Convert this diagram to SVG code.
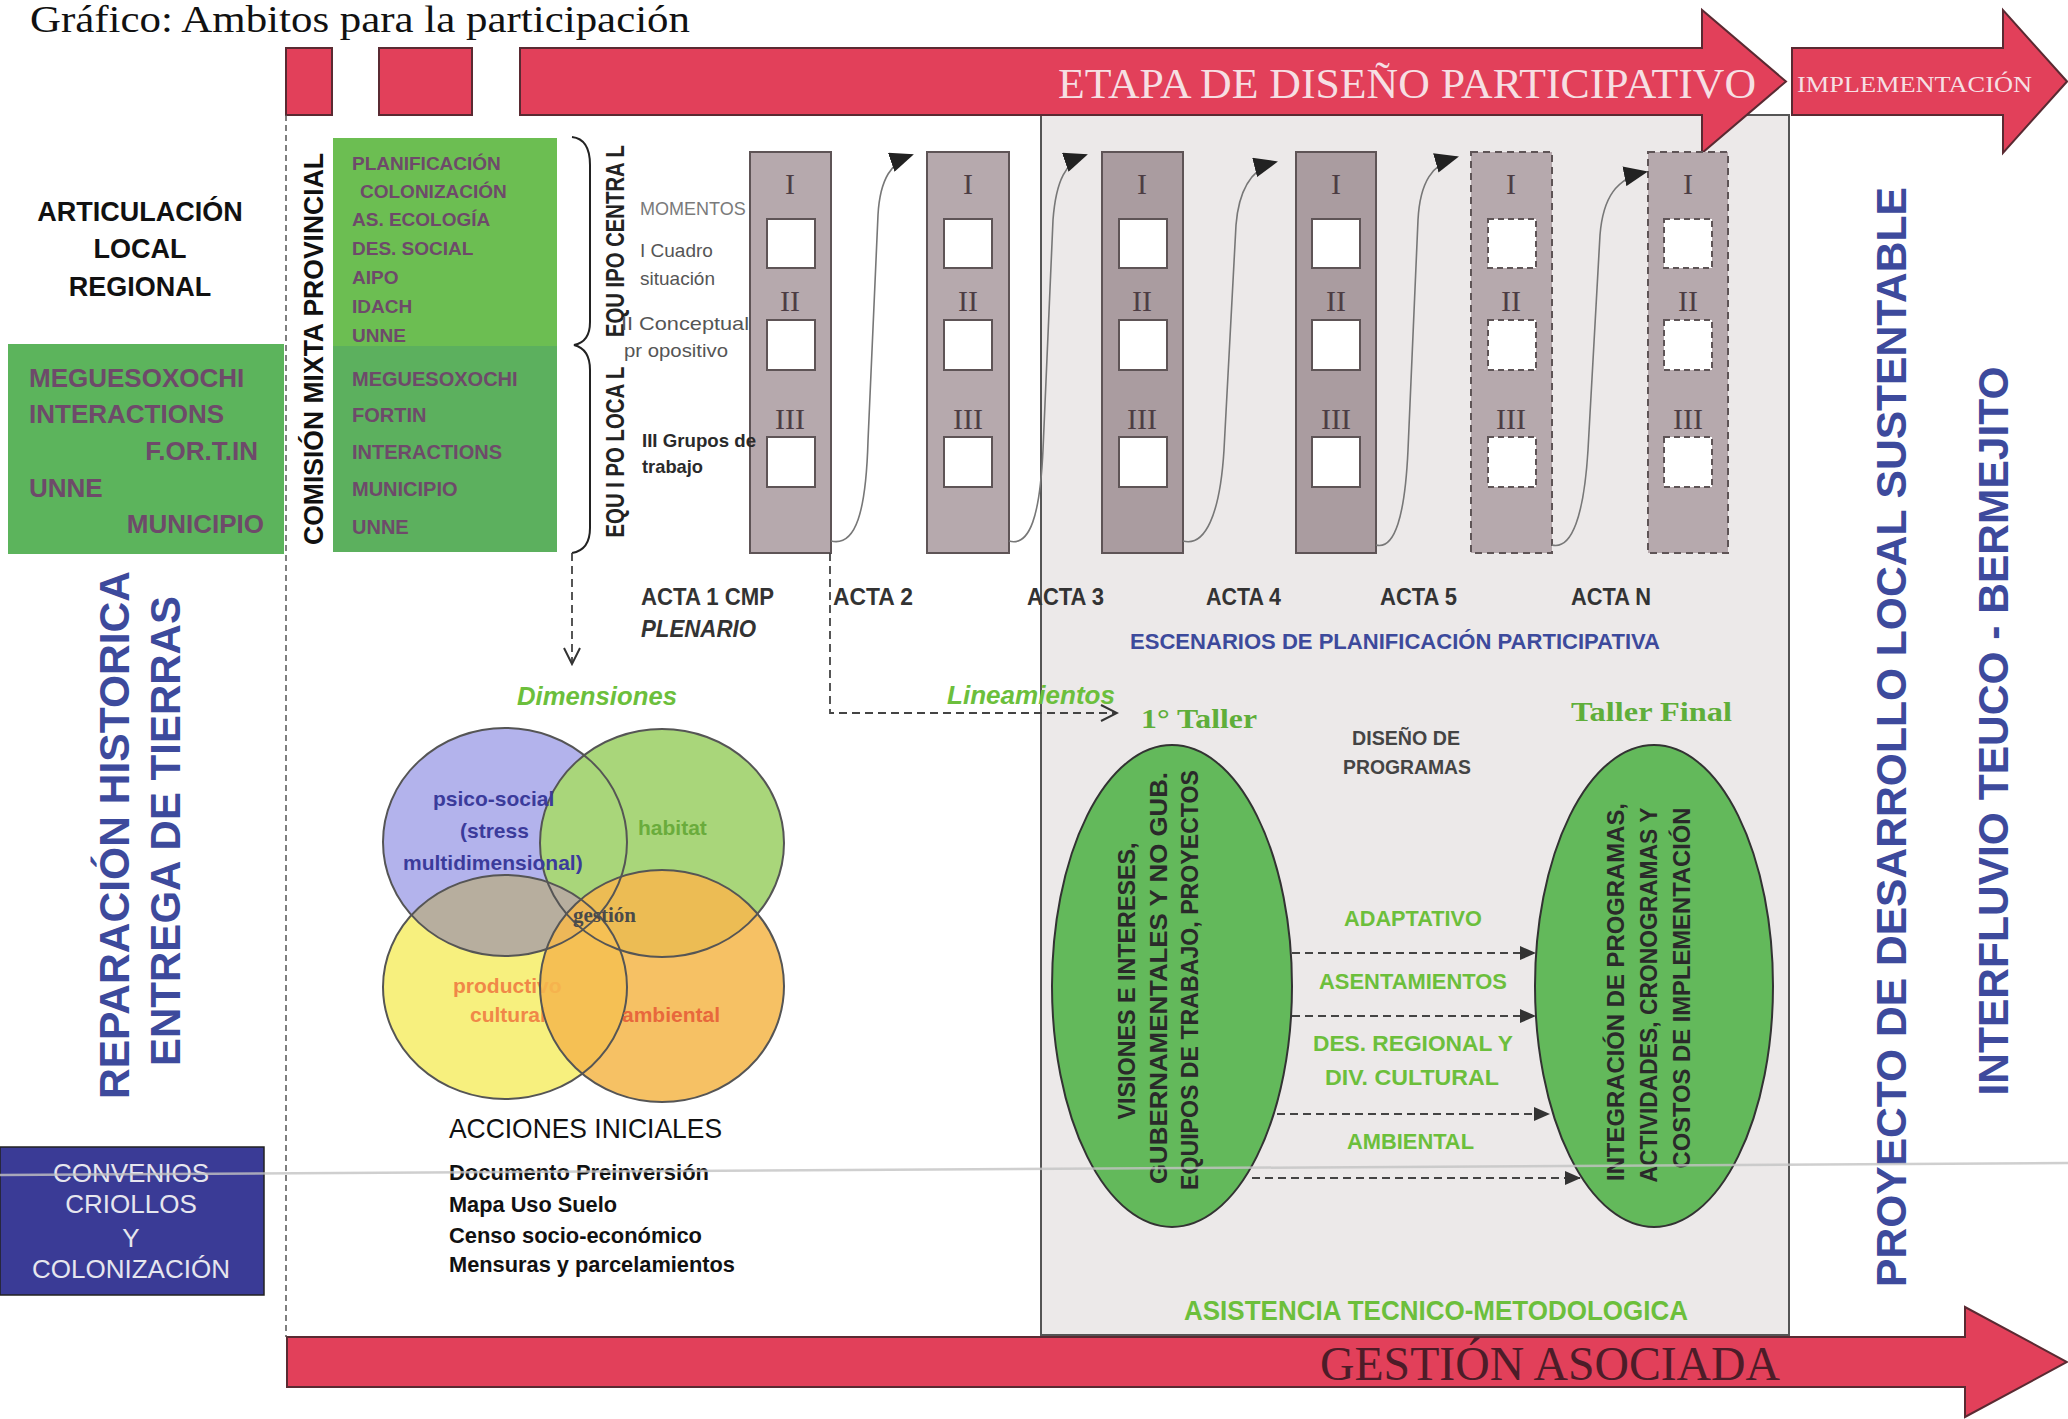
<svg xmlns="http://www.w3.org/2000/svg" width="2068" height="1419" viewBox="0 0 2068 1419">
<defs>
<style>
text{font-family:"Liberation Sans",Arial,sans-serif}
.serif{font-family:"Liberation Serif","Times New Roman",serif}
.red{fill:#e2405a;stroke:#5a2a32;stroke-width:2}
.bar{fill:#b6a9ad;stroke:#5e5456;stroke-width:2}
.bar2{fill:#aa9ca0;stroke:#5e5456;stroke-width:2}
.dbar{fill:#b6a9ad;stroke:#5e5456;stroke-width:2;stroke-dasharray:7 5}
.win{fill:#fff;stroke:#5e5456;stroke-width:2}
.dwin{fill:#fff;stroke:#5e5456;stroke-width:2;stroke-dasharray:6 4}
.rn{font-family:"Liberation Serif","Times New Roman",serif;font-size:30px;fill:#4d3d44;text-anchor:middle}
.mauve{fill:#6e4a6a;font-weight:bold}
.blue{fill:#3d4a9c;font-weight:bold}
.green{fill:#6cbf3c;font-weight:bold}
.acta{fill:#333;font-weight:bold;font-size:24px}
.curve{fill:none;stroke:#777;stroke-width:1.6}
.dash{fill:none;stroke:#444;stroke-width:1.8;stroke-dasharray:8 5}
.circ{fill:none;stroke:#555;stroke-width:2}
.ell{fill:#63b95b;stroke:#333;stroke-width:2}
.ell-t{fill:#2a2a2a;font-weight:bold;font-size:24px;text-anchor:middle}
.gray{fill:#555;font-size:19px}
</style>
<marker id="tri" markerUnits="userSpaceOnUse" markerWidth="24" markerHeight="20" viewBox="0 0 24 20" refX="22" refY="10" orient="auto"><path d="M0,0 L24,10 L0,20 z" fill="#222"/></marker>
<marker id="tri2" markerUnits="userSpaceOnUse" markerWidth="16" markerHeight="14" viewBox="0 0 16 14" refX="15" refY="7" orient="auto"><path d="M0,0 L16,7 L0,14 z" fill="#333"/></marker>
<marker id="chev" markerUnits="userSpaceOnUse" markerWidth="22" markerHeight="22" viewBox="0 0 22 22" refX="20" refY="11" orient="auto"><path d="M4,3 L20,11 L4,19" fill="none" stroke="#333" stroke-width="2" stroke-dasharray="none"/></marker>
<clipPath id="clipPurple"><ellipse cx="505" cy="842" rx="122" ry="114"/></clipPath>
</defs>
<rect x="0" y="0" width="2068" height="1419" fill="#fff"/>

<text class="serif" x="30" y="32" font-size="37" textLength="660" lengthAdjust="spacingAndGlyphs" fill="#111">Gráfico: Ambitos para la participación</text>

<g id="escenarios-box">
<rect x="1041" y="115" width="748" height="1220" fill="#ece9e9" stroke="#555" stroke-width="2"/>
</g>

<g id="etapa-arrow">
<path class="red" d="M520 48 H1702 V10 L1786 81.5 L1702 153 V115 H520 Z"/>
<text class="serif" x="1058" y="98" font-size="42" textLength="698" lengthAdjust="spacingAndGlyphs" fill="#f6dfe3">ETAPA DE DISEÑO PARTICIPATIVO</text>
</g>
<g id="implementacion-arrow">
<path class="red" d="M1792 48 H2003 V10 L2067 81.5 L2003 153 V115 H1792 Z"/>
<text class="serif" x="1797" y="92" font-size="24" textLength="235" lengthAdjust="spacingAndGlyphs" fill="#f6dfe3">IMPLEMENTACIÓN</text>
</g>
<g id="red-blocks">
<rect class="red" x="286" y="48" width="46" height="67"/>
<rect class="red" x="379" y="48" width="93" height="67"/>
</g>
<g id="gestion-arrow">
<path class="red" d="M287 1337 H1965 V1307 L2067 1362 L1965 1417 V1387 H287 Z"/>
<text class="serif" x="1320" y="1380" font-size="48" textLength="460" lengthAdjust="spacingAndGlyphs" fill="#4d1c28">GESTIÓN ASOCIADA</text>
</g>

<line x1="286" y1="115" x2="286" y2="1337" stroke="#555" stroke-width="1.5" stroke-dasharray="6 4"/>

<g id="articulacion">
<text x="140" y="221" font-size="27" font-weight="bold" text-anchor="middle" fill="#111">ARTICULACIÓN</text>
<text x="140" y="258" font-size="27" font-weight="bold" text-anchor="middle" fill="#111">LOCAL</text>
<text x="140" y="296" font-size="27" font-weight="bold" text-anchor="middle" fill="#111">REGIONAL</text>
</g>

<g id="local-org">
<rect x="8" y="344" width="276" height="210" fill="#5cb45c"/>
<text class="mauve" x="29" y="387" font-size="26">MEGUESOXOCHI</text>
<text class="mauve" x="29" y="423" font-size="26">INTERACTIONS</text>
<text class="mauve" x="258" y="460" font-size="26" text-anchor="end">F.OR.T.IN</text>
<text class="mauve" x="29" y="497" font-size="26">UNNE</text>
<text class="mauve" x="264" y="533" font-size="26" text-anchor="end">MUNICIPIO</text>
</g>

<g id="reparacion">
<text class="blue" font-size="42" text-anchor="middle" textLength="528" lengthAdjust="spacingAndGlyphs" transform="translate(129,835) rotate(-90)">REPARACIÓN HISTORICA</text>
<text class="blue" font-size="42" text-anchor="middle" textLength="470" lengthAdjust="spacingAndGlyphs" transform="translate(180,831) rotate(-90)">ENTREGA DE TIERRAS</text>
</g>

<g id="comision">
<text font-size="28" font-weight="bold" fill="#111" text-anchor="middle" textLength="392" lengthAdjust="spacingAndGlyphs" transform="translate(323,349) rotate(-90)">COMISIÓN MIXTA PROVINCIAL</text>
<rect x="333" y="138" width="224" height="208" fill="#6cbe52"/>
<rect x="333" y="346" width="224" height="206" fill="#5cb05e"/>
<text class="mauve" x="352" y="170" font-size="19">PLANIFICACIÓN</text>
<text class="mauve" x="360" y="198" font-size="19">COLONIZACIÓN</text>
<text class="mauve" x="352" y="226" font-size="19">AS. ECOLOGÍA</text>
<text class="mauve" x="352" y="255" font-size="19">DES. SOCIAL</text>
<text class="mauve" x="352" y="284" font-size="19">AIPO</text>
<text class="mauve" x="352" y="313" font-size="19">IDACH</text>
<text class="mauve" x="352" y="342" font-size="19">UNNE</text>
<text class="mauve" x="352" y="386" font-size="20">MEGUESOXOCHI</text>
<text class="mauve" x="352" y="422" font-size="20">FORTIN</text>
<text class="mauve" x="352" y="459" font-size="20">INTERACTIONS</text>
<text class="mauve" x="352" y="496" font-size="20">MUNICIPIO</text>
<text class="mauve" x="352" y="534" font-size="20">UNNE</text>
<path d="M572 137 Q590 139 590 165 L590 322 Q590 342 574 345 Q590 349 590 370 L590 528 Q590 550 572 553" fill="none" stroke="#222" stroke-width="2"/>
</g>

<g id="equipos">
<text font-size="26" font-weight="bold" fill="#222" text-anchor="middle" textLength="192" lengthAdjust="spacingAndGlyphs" transform="translate(624,241) rotate(-90)">EQU IPO CENTRA L</text>
<text font-size="26" font-weight="bold" fill="#222" text-anchor="middle" textLength="171" lengthAdjust="spacingAndGlyphs" transform="translate(624,452) rotate(-90)">EQU I PO LOCA L</text>
</g>

<g id="bars">
<rect class="bar" x="750" y="152" width="81" height="401"/>
<rect class="bar" x="927" y="152" width="82" height="401"/>
<rect class="bar2" x="1102" y="152" width="81" height="401"/>
<rect class="bar2" x="1296" y="152" width="80" height="401"/>
<rect class="dbar" x="1471" y="152" width="81" height="401"/>
<rect class="dbar" x="1648" y="152" width="80" height="401"/>
<g class="wins">
<rect class="win" x="767" y="219" width="48" height="49"/><rect class="win" x="767" y="320" width="48" height="50"/><rect class="win" x="767" y="437" width="48" height="50"/>
<rect class="win" x="944" y="219" width="48" height="49"/><rect class="win" x="944" y="320" width="48" height="50"/><rect class="win" x="944" y="437" width="48" height="50"/>
<rect class="win" x="1119" y="219" width="48" height="49"/><rect class="win" x="1119" y="320" width="48" height="50"/><rect class="win" x="1119" y="437" width="48" height="50"/>
<rect class="win" x="1312" y="219" width="48" height="49"/><rect class="win" x="1312" y="320" width="48" height="50"/><rect class="win" x="1312" y="437" width="48" height="50"/>
<rect class="dwin" x="1488" y="219" width="48" height="49"/><rect class="dwin" x="1488" y="320" width="48" height="50"/><rect class="dwin" x="1488" y="437" width="48" height="50"/>
<rect class="dwin" x="1664" y="219" width="48" height="49"/><rect class="dwin" x="1664" y="320" width="48" height="50"/><rect class="dwin" x="1664" y="437" width="48" height="50"/>
</g>
<g class="numerals">
<text class="rn" x="790" y="194">I</text><text class="rn" x="790" y="311">II</text><text class="rn" x="790" y="429">III</text>
<text class="rn" x="968" y="194">I</text><text class="rn" x="968" y="311">II</text><text class="rn" x="968" y="429">III</text>
<text class="rn" x="1142" y="194">I</text><text class="rn" x="1142" y="311">II</text><text class="rn" x="1142" y="429">III</text>
<text class="rn" x="1336" y="194">I</text><text class="rn" x="1336" y="311">II</text><text class="rn" x="1336" y="429">III</text>
<text class="rn" x="1511" y="194">I</text><text class="rn" x="1511" y="311">II</text><text class="rn" x="1511" y="429">III</text>
<text class="rn" x="1688" y="194">I</text><text class="rn" x="1688" y="311">II</text><text class="rn" x="1688" y="429">III</text>
</g>
</g>

<g id="momentos">
<text x="640" y="215" font-size="18" fill="#7a7a7a">MOMENTOS</text>
<text class="gray" x="640" y="257">I Cuadro</text>
<text class="gray" x="640" y="285">situación</text>
<text class="gray" x="621" y="330" textLength="128" lengthAdjust="spacingAndGlyphs">II Conceptual</text>
<text class="gray" x="624" y="357" textLength="104" lengthAdjust="spacingAndGlyphs">pr opositivo</text>
<text x="642" y="447" font-size="19" font-weight="bold" fill="#2a2a2a" textLength="114" lengthAdjust="spacingAndGlyphs">III Grupos de</text>
<text x="642" y="473" font-size="19" font-weight="bold" fill="#2a2a2a" textLength="61" lengthAdjust="spacingAndGlyphs">trabajo</text>
</g>

<g id="actas">
<text class="acta" x="641" y="605" textLength="133" lengthAdjust="spacingAndGlyphs">ACTA 1 CMP</text>
<text class="acta" x="641" y="637" font-style="italic" textLength="115" lengthAdjust="spacingAndGlyphs">PLENARIO</text>
<text class="acta" x="833" y="605" textLength="80" lengthAdjust="spacingAndGlyphs">ACTA 2</text>
<text class="acta" x="1027" y="605" textLength="77" lengthAdjust="spacingAndGlyphs">ACTA 3</text>
<text class="acta" x="1206" y="605" textLength="75" lengthAdjust="spacingAndGlyphs">ACTA 4</text>
<text class="acta" x="1380" y="605" textLength="77" lengthAdjust="spacingAndGlyphs">ACTA 5</text>
<text class="acta" x="1571" y="605" textLength="80" lengthAdjust="spacingAndGlyphs">ACTA N</text>
<text x="1130" y="649" font-size="22" font-weight="bold" fill="#3d4a9c" textLength="530" lengthAdjust="spacingAndGlyphs">ESCENARIOS DE PLANIFICACIÓN PARTICIPATIVA</text>
</g>

<g id="connectors">
<path class="curve" d="M831 541 C856 547 866 511 868 441 L878 215 C880 178 892 162 912 155" marker-end="url(#tri)"/>
<path class="curve" d="M1009 541 C1030 547 1040 515 1043 450 L1053 220 C1056 180 1066 162 1086 155" marker-end="url(#tri)"/>
<path class="curve" d="M1183 541 C1205 547 1220 515 1224 450 L1236 225 C1239 188 1252 168 1276 162" marker-end="url(#tri)"/>
<path class="curve" d="M1376 545 C1395 550 1405 515 1408 450 L1418 220 C1420 182 1432 164 1457 157" marker-end="url(#tri)"/>
<path class="curve" d="M1552 545 C1572 550 1584 515 1588 450 L1600 235 C1603 198 1616 178 1646 172" marker-end="url(#tri)"/>
<path class="dash" d="M830 553 V713 H1117" marker-end="url(#chev)"/>
<path class="dash" d="M572 553 V664" marker-end="url(#chev)"/>
<path class="dash" d="M1292 953 H1535" marker-end="url(#tri2)"/>
<path class="dash" d="M1292 1016 H1535" marker-end="url(#tri2)"/>
<path class="dash" d="M1277 1114 H1549" marker-end="url(#tri2)"/>
<path class="dash" d="M1252 1178 H1580" marker-end="url(#tri2)"/>
</g>

<g id="dimensiones">
<text x="517" y="705" font-size="26" font-weight="bold" font-style="italic" fill="#6cbf3c" textLength="160" lengthAdjust="spacingAndGlyphs">Dimensiones</text>
<ellipse cx="505" cy="842" rx="122" ry="114" fill="#b3b3ec"/>
<ellipse cx="662" cy="843" rx="122" ry="114" fill="#a9d67a"/>
<ellipse cx="505" cy="987" rx="122" ry="112" fill="#f7f07e"/>
<ellipse cx="505" cy="987" rx="122" ry="112" fill="#b7ae9e" clip-path="url(#clipPurple)"/>
<text x="453" y="993" font-size="21" font-weight="bold" fill="#f08848">productivo</text>
<text x="470" y="1022" font-size="21" font-weight="bold" fill="#f08848">cultural</text>
<ellipse cx="662" cy="986" rx="122" ry="116" fill="#f5b84e" fill-opacity="0.88"/>
<ellipse class="circ" cx="505" cy="842" rx="122" ry="114"/>
<ellipse class="circ" cx="662" cy="843" rx="122" ry="114"/>
<ellipse class="circ" cx="505" cy="987" rx="122" ry="112"/>
<ellipse class="circ" cx="662" cy="986" rx="122" ry="116"/>
<text x="433" y="806" font-size="21" font-weight="bold" fill="#3b3b9b">psico-social</text>
<text x="460" y="838" font-size="21" font-weight="bold" fill="#3b3b9b">(stress</text>
<text x="403" y="870" font-size="21" font-weight="bold" fill="#3b3b9b">multidimensional)</text>
<text x="638" y="835" font-size="21" font-weight="bold" fill="#6aac3c">habitat</text>
<text class="serif" x="573" y="922" font-size="21" font-weight="bold" fill="#4a4a4a">gestión</text>
<text x="622" y="1022" font-size="21" font-weight="bold" fill="#e8683c">ambiental</text>
</g>

<g id="acciones">
<text x="449" y="1138" font-size="28" fill="#111" textLength="273" lengthAdjust="spacingAndGlyphs">ACCIONES INICIALES</text>
<text x="449" y="1180" font-size="22" font-weight="bold" fill="#111" textLength="260" lengthAdjust="spacingAndGlyphs">Documento Preinversión</text>
<text x="449" y="1212" font-size="22" font-weight="bold" fill="#111" textLength="168" lengthAdjust="spacingAndGlyphs">Mapa Uso Suelo</text>
<text x="449" y="1243" font-size="22" font-weight="bold" fill="#111" textLength="253" lengthAdjust="spacingAndGlyphs">Censo socio-económico</text>
<text x="449" y="1272" font-size="22" font-weight="bold" fill="#111" textLength="286" lengthAdjust="spacingAndGlyphs">Mensuras y parcelamientos</text>
</g>

<g id="convenios">
<rect x="0" y="1147" width="264" height="148" fill="#3a3b96" stroke="#222" stroke-width="1.5"/>
<text x="131" y="1182" font-size="26" fill="#e6e6ee" text-anchor="middle">CONVENIOS</text>
<text x="131" y="1213" font-size="26" fill="#e6e6ee" text-anchor="middle">CRIOLLOS</text>
<text x="131" y="1247" font-size="26" fill="#e6e6ee" text-anchor="middle">Y</text>
<text x="131" y="1278" font-size="26" fill="#e6e6ee" text-anchor="middle">COLONIZACIÓN</text>
</g>

<g id="talleres">
<text x="947" y="704" font-size="26" font-weight="bold" font-style="italic" fill="#6cbf3c" textLength="168" lengthAdjust="spacingAndGlyphs">Lineamientos</text>
<text class="serif" x="1141" y="728" font-size="28" font-weight="bold" fill="#5fae3a" textLength="116" lengthAdjust="spacingAndGlyphs">1° Taller</text>
<text class="serif" x="1571" y="721" font-size="28" font-weight="bold" fill="#5fae3a" textLength="161" lengthAdjust="spacingAndGlyphs">Taller Final</text>
<text x="1406" y="745" font-size="20" font-weight="bold" fill="#444" text-anchor="middle" textLength="108" lengthAdjust="spacingAndGlyphs">DISEÑO DE</text>
<text x="1407" y="774" font-size="20" font-weight="bold" fill="#444" text-anchor="middle" textLength="128" lengthAdjust="spacingAndGlyphs">PROGRAMAS</text>
</g>

<g id="taller-1">
<ellipse class="ell" cx="1172" cy="986" rx="120" ry="241"/>
<text class="ell-t" textLength="277" lengthAdjust="spacingAndGlyphs" transform="translate(1135,981) rotate(-90)">VISIONES E INTERESES,</text>
<text class="ell-t" textLength="412" lengthAdjust="spacingAndGlyphs" transform="translate(1167,978) rotate(-90)">GUBERNAMENTALES Y NO GUB.</text>
<text class="ell-t" textLength="420" lengthAdjust="spacingAndGlyphs" transform="translate(1198,980) rotate(-90)">EQUIPOS DE TRABAJO, PROYECTOS</text>
</g>

<g id="taller-final">
<ellipse class="ell" cx="1654" cy="986" rx="119" ry="241"/>
<text class="ell-t" textLength="378" lengthAdjust="spacingAndGlyphs" transform="translate(1624,992) rotate(-90)">INTEGRACIÓN DE PROGRAMAS,</text>
<text class="ell-t" textLength="375" lengthAdjust="spacingAndGlyphs" transform="translate(1657,995) rotate(-90)">ACTIVIDADES, CRONOGRAMAS Y</text>
<text class="ell-t" textLength="361" lengthAdjust="spacingAndGlyphs" transform="translate(1690,988) rotate(-90)">COSTOS DE IMPLEMENTACIÓN</text>
</g>

<g id="programas">
<text class="green" x="1344" y="926" font-size="22" textLength="138" lengthAdjust="spacingAndGlyphs">ADAPTATIVO</text>
<text class="green" x="1319" y="989" font-size="22" textLength="188" lengthAdjust="spacingAndGlyphs">ASENTAMIENTOS</text>
<text class="green" x="1313" y="1051" font-size="22" textLength="200" lengthAdjust="spacingAndGlyphs">DES.  REGIONAL Y</text>
<text class="green" x="1325" y="1085" font-size="22" textLength="174" lengthAdjust="spacingAndGlyphs">DIV.  CULTURAL</text>
<text class="green" x="1347" y="1149" font-size="22" textLength="127" lengthAdjust="spacingAndGlyphs">AMBIENTAL</text>
<text class="green" x="1184" y="1320" font-size="27" textLength="504" lengthAdjust="spacingAndGlyphs">ASISTENCIA TECNICO-METODOLOGICA</text>
</g>

<g id="proyecto">
<text class="blue" font-size="42" text-anchor="middle" textLength="1100" lengthAdjust="spacingAndGlyphs" transform="translate(1906,737) rotate(-90)">PROYECTO DE DESARROLLO LOCAL SUSTENTABLE</text>
<text class="blue" font-size="42" text-anchor="middle" textLength="729" lengthAdjust="spacingAndGlyphs" transform="translate(2008,731) rotate(-90)">INTERFLUVIO TEUCO - BERMEJITO</text>
</g>

<line id="scan-line" x1="0" y1="1175" x2="2068" y2="1163" stroke="#c4c4c4" stroke-width="2.5" opacity="0.8"/>
</svg>
